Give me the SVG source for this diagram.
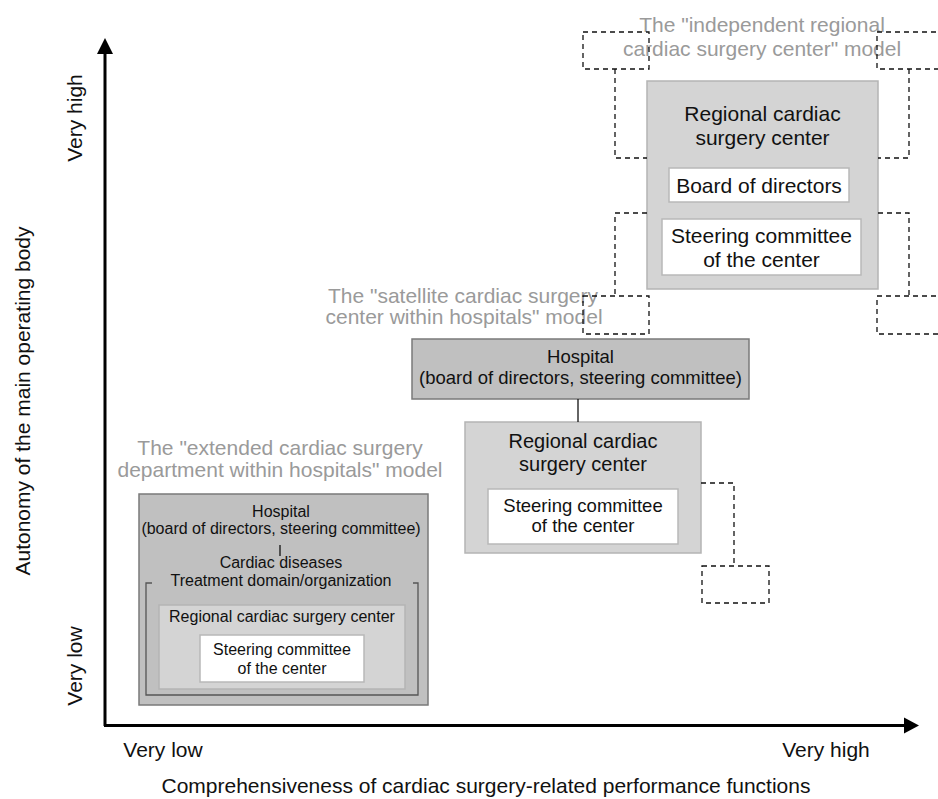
<svg xmlns="http://www.w3.org/2000/svg" width="938" height="799" viewBox="0 0 938 799">
<style>
text{font-family:"Liberation Sans",Arial,sans-serif;fill:#111;text-anchor:middle}
.cap{fill:#9a9a9a;font-size:21px}
.ax{font-size:21px}
.dash{fill:none;stroke:#111;stroke-width:1.3;stroke-dasharray:5,4}
.light{fill:#d4d4d4;stroke:#b4b4b4;stroke-width:1.5}
.dark{fill:#c0c0c0;stroke:#7a7a7a;stroke-width:1.5}
.white{fill:#fff;stroke:#b8b8b8;stroke-width:1.5}
</style>
<rect width="938" height="799" fill="#fff"/>
<g id="axes">
<line x1="105" y1="726" x2="105" y2="52" stroke="#000" stroke-width="3"/>
<polygon points="105,38 97,54 113,54" fill="#000"/>
<line x1="104" y1="725.5" x2="906" y2="725.5" stroke="#000" stroke-width="3"/>
<polygon points="919,725.5 904,717.5 904,733.5" fill="#000"/>
<text class="ax" transform="translate(82,118) rotate(-90)">Very high</text>
<text class="ax" transform="translate(82,666) rotate(-90)">Very low</text>
<text class="ax" transform="translate(30,401) rotate(-90)">Autonomy of the main operating body</text>
<text class="ax" x="163" y="757">Very low</text>
<text class="ax" x="826" y="757">Very high</text>
<text class="ax" x="486" y="793" font-size="21.5">Comprehensiveness of cardiac surgery-related performance functions</text>
</g>
<g id="captions">
<text class="cap" x="762" y="32">The "independent regional</text>
<text class="cap" x="762" y="56">cardiac surgery center" model</text>
<text class="cap" x="463" y="303">The "satellite cardiac surgery</text>
<text class="cap" x="464" y="324">center within hospitals" model</text>
<text class="cap" x="280" y="455">The "extended cardiac surgery</text>
<text class="cap" x="280" y="477">department within hospitals" model</text>
</g>
<g id="independent-model">
<rect class="light" x="647" y="81" width="231" height="208"/>
<text x="762.5" y="121" font-size="21">Regional cardiac</text>
<text x="762.5" y="145" font-size="21">surgery center</text>
<rect class="white" x="669" y="168" width="180" height="34"/>
<text x="759" y="192.5" font-size="21">Board of directors</text>
<rect class="white" x="662" y="219" width="199" height="56"/>
<text x="761.5" y="243" font-size="21">Steering committee</text>
<text x="761.5" y="266.5" font-size="21">of the center</text>
</g>
<g id="satellite-model">
<rect class="dark" x="412" y="339" width="337" height="60"/>
<text x="580.5" y="363" font-size="18.5">Hospital</text>
<text x="580.5" y="384" font-size="18.5">(board of directors, steering committee)</text>
<rect class="light" x="465" y="422" width="236" height="131"/>
<text x="583" y="448" font-size="20">Regional cardiac</text>
<text x="583" y="471" font-size="20">surgery center</text>
<rect class="white" x="488" y="489" width="190" height="55"/>
<text x="583" y="512" font-size="18.5">Steering committee</text>
<text x="583" y="532" font-size="18.5">of the center</text>
</g>
<g id="extended-model">
<rect class="dark" x="139" y="494" width="289" height="211"/>
<text x="281" y="517" font-size="16">Hospital</text>
<text x="281" y="534" font-size="16">(board of directors, steering committee)</text>
<text x="281" y="568" font-size="16">Cardiac diseases</text>
<text x="281" y="585.5" font-size="16">Treatment domain/organization</text>
<path d="M152,583 H146 V695 H418 V583 H413" fill="none" stroke="#555" stroke-width="1.3"/>
<rect class="light" x="159" y="605" width="246" height="84"/>
<text x="282" y="622" font-size="16">Regional cardiac surgery center</text>
<rect class="white" x="200" y="635" width="164" height="47"/>
<text x="282" y="655" font-size="16">Steering committee</text>
<text x="282" y="674" font-size="16">of the center</text>
</g>
<g id="connectors">
<line x1="280" y1="545" x2="280" y2="556" stroke="#111" stroke-width="1.3"/>
<line x1="578" y1="399" x2="578" y2="422" stroke="#111" stroke-width="1.3"/>
<rect class="dash" x="583" y="32" width="66" height="37"/>
<path class="dash" d="M615,69 V158 H647"/>
<path class="dash" d="M647,213 H615 V296"/>
<rect class="dash" x="583" y="296" width="66" height="38"/>
<path class="dash" d="M945,32 H877 V69 H945"/>
<path class="dash" d="M909,69 V158 H878"/>
<path class="dash" d="M878,213 H909 V296"/>
<path class="dash" d="M945,296 H877 V334 H945"/>
<path class="dash" d="M701,483 H734 V566"/>
<rect class="dash" x="702" y="566" width="67" height="37"/>
</g>
</svg>
